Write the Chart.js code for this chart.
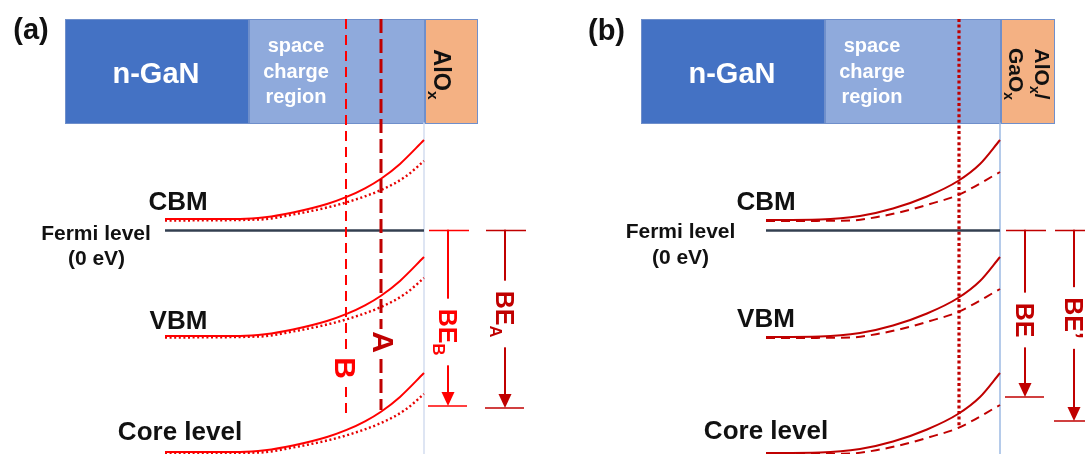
<!DOCTYPE html>
<html><head><meta charset="utf-8">
<script src="https://cdn.jsdelivr.net/npm/chart.js@4.4.1/dist/chart.umd.min.js"></script>
<style>html,body{margin:0;padding:0;background:#fff;overflow:hidden}canvas{display:block}</style>
</head><body>
<canvas id="c" width="1085" height="454"></canvas>
<script>
// ---------- layer stack (x edges in diagram units) ----------
const layerNames = ['n-GaN', 'space charge region', 'oxide'];
const layerEdgesA = [65, 249, 425, 478];
const layerEdgesB = [641, 825, 1001, 1055];
const layerTopBottom = [19, 123];

// ---------- energy levels ----------
const levelNames = ['CBM', 'VBM', 'Core level'];
const levelShift = [0, 117, 233];          // VBM / core level below the CBM trace
const fermiLevel = 230.5;
const fermiSpanA = [165, 424];
const fermiSpanB = [766, 1000];

// ---------- band bending, CBM trace (panel a) ----------
const posA1 = [165, 240, 265, 293, 327, 346, 365, 381, 400, 424];
const cbmA1 = [219, 219, 217.3, 212.5, 204, 197.2, 188.3, 178.7, 163.9, 140];
const posA2 = [165, 260, 293, 327, 346, 381, 405, 424];
const cbmA2 = [220.5, 219.5, 214.5, 207.5, 202.5, 190, 177, 161];

// ---------- band bending, CBM trace (panel b) ----------
const posB1 = [766, 820, 860, 893, 927, 958, 980, 1000];
const cbmB1 = [220, 219.5, 216, 208.5, 196.5, 181, 164, 140];
const posB2 = [766, 850, 880, 905, 930, 958, 1000];
const cbmB2 = [221, 220.5, 216.5, 211, 204, 195, 172];

// ---------- probing-depth markers ----------
const depthNamesA = ['B', 'A'];
const depthXA = [346, 381];
const depthEndA = [418, 410];
const depthXB = [959];
const depthEndB = [427];

// ---------- binding-energy arrows ----------
const arrowText = ['BE', 'BE', 'BE', 'BE\u2019'];
const arrowSub = ['B', 'A', '', ''];
const arrowX = [448, 505, 1025, 1074];
const arrowTop = [230.5, 230.5, 230.5, 230.5];
const arrowBottom = [406, 408, 397, 421];
const arrowLabelY = [332, 314, 320, 318];

// ================== build datasets ==================
const FONT = '"Liberation Sans", Arial, Helvetica, sans-serif';
const RED = '#FF0000', DRED = '#C00000';
const datasets = [];
function pts(xs, ys, shift) { return xs.map((x, i) => ({x, y: ys[i] + (shift || 0)})); }
function addLine(data, color, width, dash, order, smooth) {
  datasets.push({
    data, borderColor: color, backgroundColor: color, borderWidth: width,
    borderDash: dash || [], order, fill: false, pointRadius: 0, pointHoverRadius: 0,
    tension: 0, cubicInterpolationMode: smooth ? 'monotone' : 'default',
    borderCapStyle: 'butt', borderJoinStyle: 'round'
  });
}
// interfaces
addLine([{x: layerEdgesA[2] - 1, y: layerTopBottom[1]}, {x: layerEdgesA[2] - 1, y: 454}], '#D3DDF0', 1.5, [], 6);
addLine([{x: layerEdgesB[2] - 1, y: layerTopBottom[1]}, {x: layerEdgesB[2] - 1, y: 454}], '#9DBBE3', 1.5, [], 6);
// Fermi level
addLine([{x: fermiSpanA[0], y: fermiLevel}, {x: fermiSpanA[1], y: fermiLevel}], '#333F50', 2.6, [], 5);
addLine([{x: fermiSpanB[0], y: fermiLevel}, {x: fermiSpanB[1], y: fermiLevel}], '#333F50', 2.6, [], 5);
// bands
levelShift.forEach(s => {
  addLine(pts(posA2, cbmA2, s), '#E60000', 2.4, [2, 2.6], 4, true);
  addLine(pts(posA1, cbmA1, s), RED, 2, [], 3, true);
  addLine(pts(posB2, cbmB2, s), DRED, 2, [9, 6], 4, true);
  addLine(pts(posB1, cbmB1, s), DRED, 2, [], 3, true);
});
// depth markers
addLine([{x: depthXA[0], y: layerTopBottom[0]}, {x: depthXA[0], y: depthEndA[0]}], RED, 2, [10, 6], 2);
addLine([{x: depthXA[1], y: layerTopBottom[0]}, {x: depthXA[1], y: depthEndA[1]}], DRED, 3, [14, 6], 2);
addLine([{x: depthXB[0], y: layerTopBottom[0]}, {x: depthXB[0], y: depthEndB[0]}], DRED, 3.2, [3, 2.6], 2);
// arrows
const arrowColor = [RED, DRED, DRED, DRED];
arrowX.forEach((x, i) => {
  const c = arrowColor[i];
  addLine([{x, y: arrowTop[i]}, {x, y: arrowBottom[i] - 10}], c, 2, [], 1);
  addLine([{x: x - 19, y: arrowTop[i]}, {x: x + 21, y: arrowTop[i]}], c, 1.6, [], 1);
  addLine([{x: x - 20, y: arrowBottom[i]}, {x: x + 19, y: arrowBottom[i]}], c, 1.6, [], 1);
});

// ================== text helpers ==================
function richWidth(ctx, parts, size) {
  let w = 0;
  parts.forEach(p => { ctx.font = `bold ${p.sub ? size * 0.66 : size}px ${FONT}`; w += ctx.measureText(p.t).width; });
  return w;
}
// (cx, cy) = centre of capital letters
function drawRich(ctx, parts, cx, cy, size, color, rotate) {
  ctx.save();
  ctx.translate(cx, cy);
  if (rotate) ctx.rotate(Math.PI / 2);
  const w = richWidth(ctx, parts, size);
  let x0 = -w / 2;
  const base = size * 0.358;
  ctx.fillStyle = color; ctx.textAlign = 'left'; ctx.textBaseline = 'alphabetic';
  parts.forEach(p => {
    const s = p.sub ? size * 0.66 : size;
    ctx.font = `bold ${s}px ${FONT}`;
    ctx.fillText(p.t, x0, base + (p.sub ? size * 0.24 : 0));
    x0 += ctx.measureText(p.t).width;
  });
  ctx.restore();
  return w;
}
function T(t, sub) { return {t, sub: !!sub}; }

const diagram = {
  id: 'diagram',
  beforeDatasetsDraw(chart) {
    const {ctx, scales: {x, y}} = chart;
    const X = v => x.getPixelForValue(v), Y = v => y.getPixelForValue(v);
    const fills = ['#4472C4', '#8FAADC', '#F4B183'];
    ctx.save();
    [layerEdgesA, layerEdgesB].forEach((edges, p) => {
      for (let i = 0; i < 3; i++) {
        const x0 = X(edges[i]), x1 = X(edges[i + 1]);
        const y0 = Y(layerTopBottom[0]), y1 = Y(layerTopBottom[1]);
        ctx.fillStyle = fills[i];
        ctx.fillRect(x0, y0, x1 - x0, y1 - y0);
        ctx.strokeStyle = '#6F8FCB'; ctx.lineWidth = 1;
        ctx.strokeRect(x0 + 0.5, y0 + 0.5, x1 - x0 - 1, y1 - y0);
      }
      // labels inside layers
      drawRich(ctx, [T(layerNames[0])], X((edges[0] + edges[1]) / 2) - 1, Y(72.5), 29, '#FFFFFF');
      const scX = X(edges[1] + 47);
      layerNames[1].split(' ').forEach((w, k) => drawRich(ctx, [T(w)], scX, Y(45.3 + 25.5 * k), 20, '#FFFFFF'));
      if (p === 0) {
        drawRich(ctx, [T('AlO'), T('x', 1)], X(442), Y(74.5), 23.5, '#111111', true);
      } else {
        drawRich(ctx, [T('AlO'), T('x', 1), T('/')], X(1043), Y(74), 21, '#111111', true);
        drawRich(ctx, [T('GaO'), T('x', 1)], X(1017), Y(74), 21, '#111111', true);
      }
    });
    ctx.restore();
  },
  afterDatasetsDraw(chart) {
    const {ctx, scales: {x, y}} = chart;
    const X = v => x.getPixelForValue(v), Y = v => y.getPixelForValue(v);
    ctx.save();
    // panel tags
    drawRich(ctx, [T('(a)')], X(31), Y(28.8), 29, '#111111');
    drawRich(ctx, [T('(b)')], X(606.5), Y(30), 29, '#111111');
    // level labels
    const lvlXA = [178, 178.5, 180], lvlXB = [766, 766, 766];
    const lvlYA = [200.7, 320, 430.7], lvlYB = [201, 318, 430];
    levelNames.forEach((n, i) => {
      drawRich(ctx, [T(n)], X(lvlXA[i]), Y(lvlYA[i]), 26, '#111111');
      drawRich(ctx, [T(n)], X(lvlXB[i]), Y(lvlYB[i]), 26, '#111111');
    });
    drawRich(ctx, [T('Fermi level')], X(96), Y(232), 21, '#111111');
    drawRich(ctx, [T('(0 eV)')], X(96.5), Y(257), 21, '#111111');
    drawRich(ctx, [T('Fermi level')], X(680.5), Y(230), 21, '#111111');
    drawRich(ctx, [T('(0 eV)')], X(680.5), Y(256), 21, '#111111');
    // depth marker letters
    const depthLY = [368, 342], depthLX = [345.5, 384], depthC = [RED, DRED];
    depthNamesA.forEach((n, i) => {
      const cx = X(depthLX[i]), cy = Y(depthLY[i]);
      ctx.fillStyle = '#FFFFFF';
      ctx.fillRect(cx - 14, cy - 13, 26, 26);
      drawRich(ctx, [T(n)], cx, cy, 30, depthC[i], true);
    });
    // arrow heads and labels
    arrowX.forEach((ax, i) => {
      const c = arrowColor[i];
      const px = X(ax), tip = Y(arrowBottom[i]);
      ctx.fillStyle = c;
      ctx.beginPath();
      ctx.moveTo(px, tip);
      ctx.lineTo(px - 6.5, tip - 14);
      ctx.lineTo(px + 6.5, tip - 14);
      ctx.closePath();
      ctx.fill();
      const parts = [T(arrowText[i])];
      if (arrowSub[i]) parts.push(T(arrowSub[i], 1));
      const w = richWidth(ctx, parts, 25);
      const cy = Y(arrowLabelY[i]);
      ctx.fillStyle = '#FFFFFF';
      ctx.fillRect(px - 13, cy - w / 2 - 10, 26, w + 20);
      drawRich(ctx, parts, px, cy, 25, c, true);
    });
    ctx.restore();
  }
};

new Chart(document.getElementById('c'), {
  type: 'line',
  data: {datasets},
  options: {
    responsive: false, animation: false, devicePixelRatio: 1, events: [],
    layout: {padding: 0},
    scales: {
      x: {type: 'linear', min: 0, max: 1085, display: false},
      y: {type: 'linear', min: 0, max: 454, reverse: true, display: false}
    },
    plugins: {legend: {display: false}, tooltip: {enabled: false}}
  },
  plugins: [diagram]
});
</script>
</body></html>
